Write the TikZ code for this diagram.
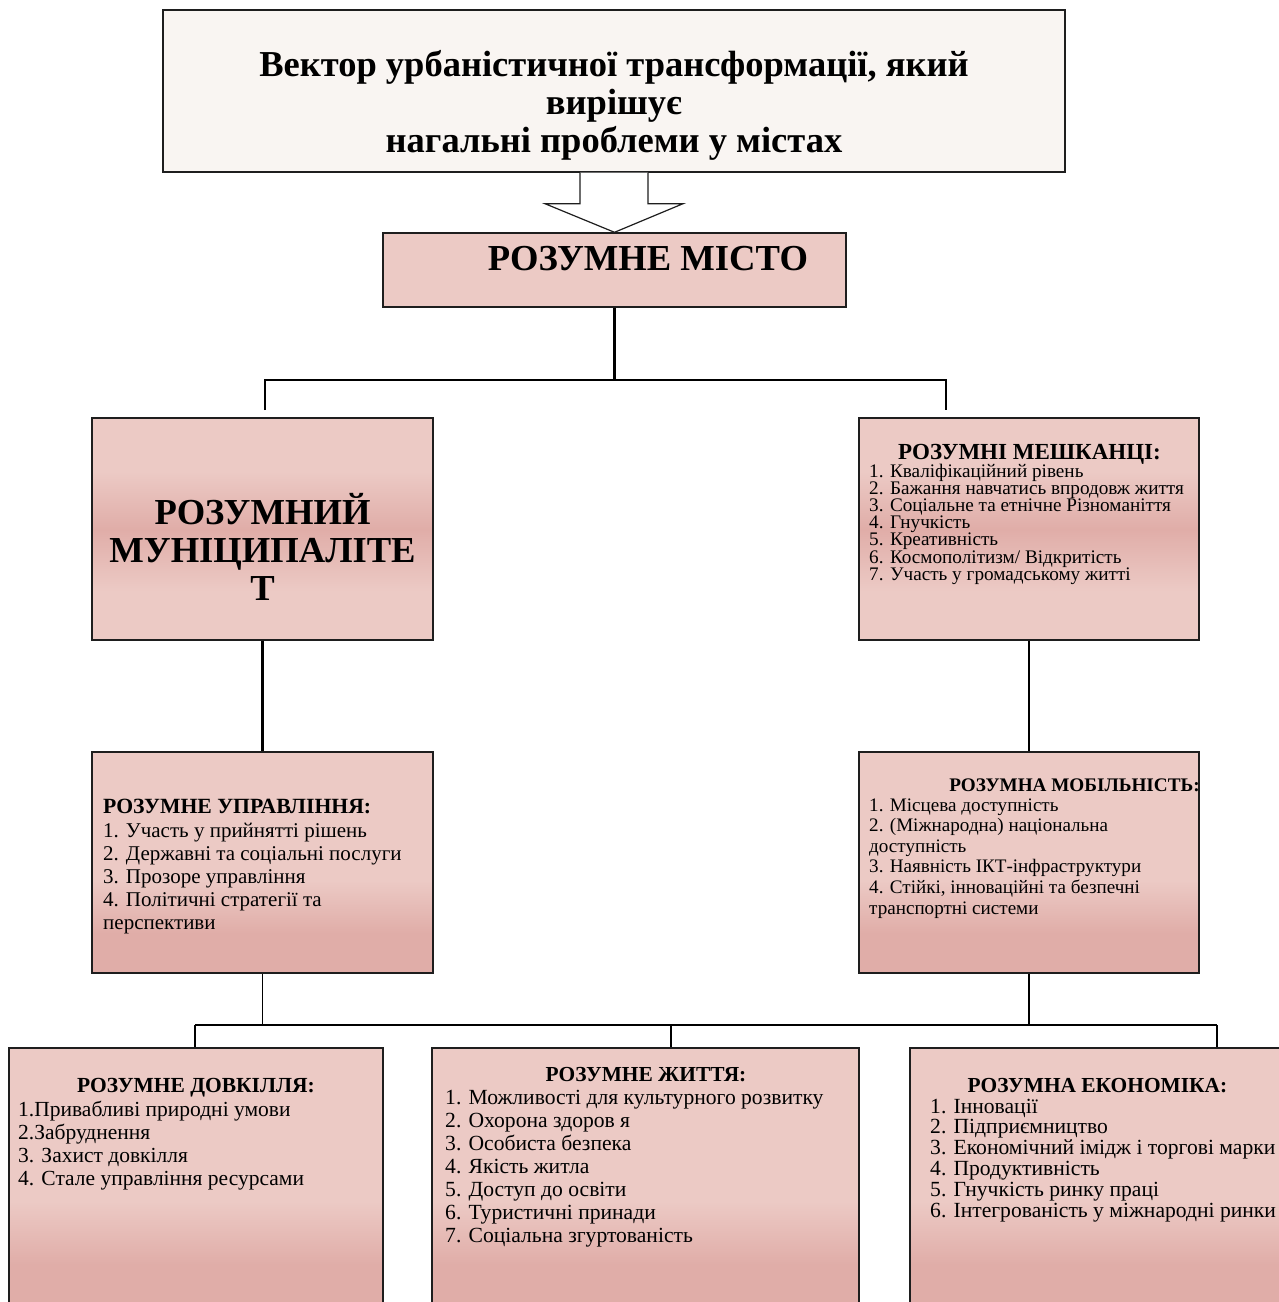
\documentclass[tikz,border=0pt]{standalone}
\usepackage{fontspec}
\setmainfont{Liberation Serif}
\usetikzlibrary{calc}
\definecolor{pinkL}{RGB}{236,202,197}
\definecolor{pinkD}{RGB}{224,173,168}
\definecolor{paper}{RGB}{249,245,242}
\definecolor{edge}{RGB}{30,30,30}
% box fills: darker band across the middle, or darker towards the bottom
\pgfdeclareverticalshading{midband}{100bp}{color(0bp)=(pinkL); color(36bp)=(pinkL); color(50bp)=(pinkD); color(63bp)=(pinkL); color(100bp)=(pinkL)}
\pgfdeclareverticalshading{lowband}{100bp}{color(0bp)=(pinkD); color(34bp)=(pinkD); color(46bp)=(pinkL); color(100bp)=(pinkL)}
% stacked lines with a fixed line distance; the baseline is that of the first line
\newcommand{\lstack}[2]{\vtop{\baselineskip=#1\lineskiplimit=-\maxdimen\lineskip=0pt\halign{##\hfil\cr#2\crcr}}}
\newcommand{\cstack}[2]{\vtop{\baselineskip=#1\lineskiplimit=-\maxdimen\lineskip=0pt\halign{\hfil##\hfil\cr#2\crcr}}}
\begin{document}
\begin{tikzpicture}[x=1pt,y=-1pt,
  box/.style={draw=edge, line width=1.4pt, rectangle, inner sep=0pt},
  midbox/.style={box, shading=midband},
  lowbox/.style={box, shading=lowband},
  conn/.style={draw=black, line width=2.6pt, line join=miter},
  thinconn/.style={draw=black, line width=1.3pt, line join=miter},
  hd/.style={font=\bfseries\fontsize{#1}{#1}\selectfont, anchor=base, inner sep=0pt},
  items/.style={font=\fontsize{#1}{#1}\selectfont, anchor=base west, inner sep=0pt},
  big/.style={font=\bfseries\fontsize{36.6}{38}\selectfont, anchor=base, inner sep=0pt}]
\useasboundingbox[fill=white] (0,0) rectangle (1278,1302);

% boxes
\node[box, fill=paper, minimum width=902pt, minimum height=162pt] (top) at (614,91) {};
\node[box, fill=pinkL, minimum width=463pt, minimum height=74pt] (city) at (614.5,270) {};
\node[midbox, minimum width=341pt, minimum height=222pt] (mun) at (262.5,529) {};
\node[midbox, minimum width=340pt, minimum height=222pt] (res) at (1029,529) {};
\node[lowbox, minimum width=341pt, minimum height=221pt] (gov) at (262.5,862.5) {};
\node[lowbox, minimum width=340pt, minimum height=221pt] (mob) at (1029,862.5) {};
\node[lowbox, minimum width=374pt, minimum height=264pt] (env) at (196,1180) {};
\node[lowbox, minimum width=427pt, minimum height=264pt] (life) at (645.5,1180) {};
\node[lowbox, minimum width=390pt, minimum height=264pt] (eco) at (1105,1180) {};

% block arrow from the title box down to the city box
\draw[fill=white, draw=edge, line width=1.2pt, line join=miter]
  ($(top.south)+(-34,0)$) -- ($(top.south)+(-34,31)$) -- ($(top.south)+(-69,31)$)
  -- (city.north) -- ($(top.south)+(69,31)$) -- ($(top.south)+(34,31)$) -- ($(top.south)+(34,0)$);

% upper tree
\coordinate (jn) at (614.5,380);
\coordinate (mstub) at (265,410);
\coordinate (rstub) at (946,410);
\draw[conn] (city.south) -- (jn);
\draw[conn] (mstub) |- (jn) -| (rstub);
\draw[conn] (mun.south) -- (gov.north);
\draw[conn] (res.south) -- (mob.north);

% lower tree
\coordinate (busL) at (195,1025);
\coordinate (busM) at (671,1025);
\coordinate (busR) at (1217,1025);
\draw[thinconn] (gov.south) -- (gov.south |- busL);
\draw[thinconn] (mob.south) -- (mob.south |- busL);
\draw[thinconn, line width=1.7pt] (busL) -- (busR);
\draw[thinconn] (busL) -- (busL |- env.north);
\draw[thinconn] (busM) -- (busM |- life.north);
\draw[thinconn] (busR) -- (busR |- eco.north);

% texts
\node[font=\bfseries\fontsize{36.5}{37.5}\selectfont, anchor=base, inner sep=0pt] (ttl) at (614,76)
  {\cstack{38pt}{Вектор урбаністичної трансформації, який\cr вирішує\cr нагальні проблеми у містах}};
\node[big] (cityt) at (648,270) {РОЗУМНЕ МІСТО};
\node[big] (munt) at (262.5,524) {\cstack{38pt}{РОЗУМНИЙ\cr МУНІЦИПАЛІТЕ\cr Т}};

\node[hd=23] (resh) at (1029.5,459) {РОЗУМНІ МЕШКАНЦІ:};
\node[items=19.2] (resi) at (869,477) {\lstack{17.2pt}{1. Кваліфікаційний рівень\cr 2. Бажання навчатись впродовж життя\cr 3. Соціальне та етнічне Різноманіття\cr 4. Гнучкість\cr 5. Креативність\cr 6. Космополітизм/ Відкритість\cr 7. Участь у громадському житті}};

\node[hd=21.7, anchor=base west] (govh) at (103,813) {РОЗУМНЕ УПРАВЛІННЯ:};
\node[items=21] (govi) at (103,837) {\lstack{23pt}{1. Участь у прийнятті рішень\cr 2. Державні та соціальні послуги\cr 3. Прозоре управління\cr 4. Політичні стратегії та\cr перспективи}};

\node[hd=19.2] (mobh) at (1074.5,791) {РОЗУМНА МОБІЛЬНІСТЬ:};
\node[items=19.1] (mobi) at (869,811) {\lstack{20.6pt}{1. Місцева доступність\cr 2. (Міжнародна) національна\cr доступність\cr 3. Наявність ІКТ-інфраструктури\cr 4. Стійкі, інноваційні та безпечні\cr транспортні системи}};

\node[hd=21.5] (envh) at (196,1092) {РОЗУМНЕ ДОВКІЛЛЯ:};
\node[items=21.5] (envi) at (18,1116) {\lstack{23pt}{1.Привабливі природні умови\cr 2.Забруднення\cr 3. Захист довкілля\cr 4. Стале управління ресурсами}};

\node[hd=21.4] (lifeh) at (646,1081) {РОЗУМНЕ ЖИТТЯ:};
\node[items=21.6] (lifei) at (445,1104) {\lstack{23.1pt}{1. Можливості для культурного розвитку\cr 2. Охорона здоров я\cr 3. Особиста безпека\cr 4. Якість житла\cr 5. Доступ до освіти\cr 6. Туристичні принади\cr 7. Соціальна згуртованість}};

\node[hd=21.4] (ecoh) at (1097.5,1092) {РОЗУМНА ЕКОНОМІКА:};
\node[items=21.6] (ecoi) at (930,1113) {\lstack{20.8pt}{1. Інновації\cr 2. Підприємництво\cr 3. Економічний імідж і торгові марки\cr 4. Продуктивність\cr 5. Гнучкість ринку праці\cr 6. Інтегрованість у міжнародні ринки}};
\end{tikzpicture}
\end{document}
